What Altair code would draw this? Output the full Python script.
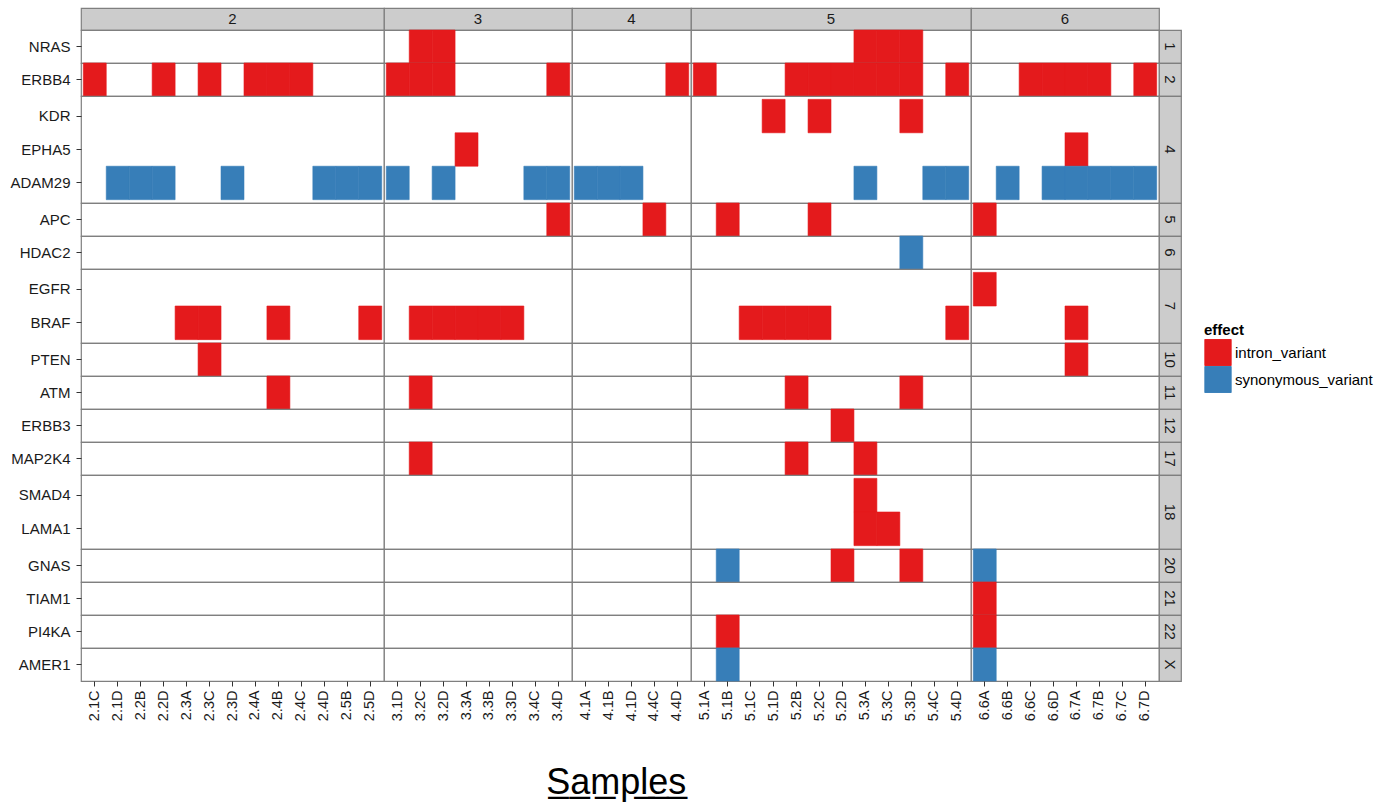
import altair as alt
import pandas as pd

# ---------------- data ----------------
PATIENTS = ["2", "3", "4", "5", "6"]
SAMPLES_2 = ["2.1C", "2.1D", "2.2B", "2.2D", "2.3A", "2.3C", "2.3D", "2.4A", "2.4B", "2.4C", "2.4D", "2.5B", "2.5D"]
SAMPLES_3 = ["3.1D", "3.2C", "3.2D", "3.3A", "3.3B", "3.3D", "3.4C", "3.4D"]
SAMPLES_4 = ["4.1A", "4.1B", "4.1D", "4.4C", "4.4D"]
SAMPLES_5 = ["5.1A", "5.1B", "5.1C", "5.1D", "5.2B", "5.2C", "5.2D", "5.3A", "5.3C", "5.3D", "5.4C", "5.4D"]
SAMPLES_6 = ["6.6A", "6.6B", "6.6C", "6.6D", "6.7A", "6.7B", "6.7C", "6.7D"]

CHROMS = ["1", "2", "4", "5", "6", "7", "10", "11", "12", "17", "18", "20", "21", "22", "X"]
GENES = [["NRAS"], ["ERBB4"], ["KDR", "EPHA5", "ADAM29"], ["APC"], ["HDAC2"], ["EGFR", "BRAF"],
         ["PTEN"], ["ATM"], ["ERBB3"], ["MAP2K4"], ["SMAD4", "LAMA1"], ["GNAS"], ["TIAM1"],
         ["PI4KA"], ["AMER1"]]

EFFECTS = ["intron_variant", "synonymous_variant"]
EFFECT_COLORS = ["#E41A1C", "#377EB8"]

INTRON_VARIANT = {
    "NRAS": ["3.2C", "3.2D", "5.3A", "5.3C", "5.3D"],
    "ERBB4": ["2.1C", "2.2D", "2.3C", "2.4A", "2.4B", "2.4C", "3.1D", "3.2C", "3.2D", "3.4D", "4.4D",
              "5.1A", "5.2B", "5.2C", "5.2D", "5.3A", "5.3C", "5.3D", "5.4D",
              "6.6C", "6.6D", "6.7A", "6.7B", "6.7D"],
    "KDR": ["5.1D", "5.2C", "5.3D"],
    "EPHA5": ["3.3A", "6.7A"],
    "APC": ["3.4D", "4.4C", "5.1B", "5.2C", "6.6A"],
    "EGFR": ["6.6A"],
    "BRAF": ["2.3A", "2.3C", "2.4B", "2.5D", "3.2C", "3.2D", "3.3A", "3.3B", "3.3D",
             "5.1C", "5.1D", "5.2B", "5.2C", "5.4D", "6.7A"],
    "PTEN": ["2.3C", "6.7A"],
    "ATM": ["2.4B", "3.2C", "5.2B", "5.3D"],
    "ERBB3": ["5.2D"],
    "MAP2K4": ["3.2C", "5.2B", "5.3A"],
    "SMAD4": ["5.3A"],
    "LAMA1": ["5.3A", "5.3C"],
    "GNAS": ["5.2D", "5.3D"],
    "TIAM1": ["6.6A"],
    "PI4KA": ["5.1B", "6.6A"],
}
SYNONYMOUS_VARIANT = {
    "ADAM29": ["2.1D", "2.2B", "2.2D", "2.3D", "2.4D", "2.5B", "2.5D", "3.1D", "3.2D", "3.4C", "3.4D",
               "4.1A", "4.1B", "4.1D", "5.3A", "5.4C", "5.4D",
               "6.6B", "6.6D", "6.7A", "6.7B", "6.7C", "6.7D"],
    "HDAC2": ["5.3D"],
    "GNAS": ["5.1B", "6.6A"],
    "AMER1": ["5.1B", "6.6A"],
}

# ---------------- table ----------------
SAMPLES = dict(zip(PATIENTS, [SAMPLES_2, SAMPLES_3, SAMPLES_4, SAMPLES_5, SAMPLES_6]))
GENES_OF = dict(zip(CHROMS, GENES))
CHROM_OF = {g: c for c, gs in zip(CHROMS, GENES) for g in gs}

rows = []
for effect, table in zip(EFFECTS, [INTRON_VARIANT, SYNONYMOUS_VARIANT]):
    for gene, samples in table.items():
        for s in samples:
            rows.append({"gene": gene, "chrom": CHROM_OF[gene], "sample": s,
                         "patient": s.split(".")[0], "effect": effect})
df = pd.DataFrame(rows)

# ---------------- layout ----------------
STEP_X = 22.95
STEP_Y = 33.45
STRIP = 22
BORDER = "#7F7F7F"
STRIP_FILL = "#CCCCCC"
TEXT = "#1A1A1A"

color_scale = alt.Scale(domain=EFFECTS, range=EFFECT_COLORS)
color = alt.Color("effect:N", scale=color_scale, legend=alt.Legend(title="effect"))
stroke = alt.Stroke("effect:N", scale=color_scale, legend=None)


def width_of(p):
    return round((len(SAMPLES[p]) + 0.2) * STEP_X)


def ypad_of(c):
    return 0.1 if len(GENES_OF[c]) > 1 else 0


def height_of(c):
    return round((len(GENES_OF[c]) + 2 * ypad_of(c)) * STEP_Y)


cells = []
# top strip row
for p in PATIENTS:
    strip = alt.Chart(pd.DataFrame({"patient": [p]})).mark_text(
        fontSize=15, color=TEXT
    ).encode(
        x=alt.X("patient:N", axis=None),
        y=alt.Y("patient:N", axis=None),
        text="patient:N",
    ).properties(width=width_of(p), height=STRIP,
                 view=alt.ViewBackground(fill=STRIP_FILL, stroke=BORDER, strokeWidth=1.2))
    cells.append(strip)
cells.append(
    alt.Chart(pd.DataFrame({"v": [""]})).mark_text().encode(text="v:N")
    .properties(width=STRIP, height=STRIP, view=alt.ViewBackground(stroke="transparent"))
)

n_rows = len(CHROMS)
for ri, c in enumerate(CHROMS):
    genes = GENES_OF[c]
    for ci, p in enumerate(PATIENTS):
        x_axis = alt.Axis(title=None, labelAngle=270, labelFontSize=14.5, labelColor=TEXT,
                          tickColor="#333333", tickSize=5, labelPadding=4, domain=False,
                          grid=False) if ri == n_rows - 1 else None
        y_axis = alt.Axis(title=None, labelFontSize=15, labelColor=TEXT, tickColor="#333333",
                          tickSize=5, labelPadding=6, domain=False, grid=False) if ci == 0 else None
        panel = alt.Chart(df).transform_filter(
            (alt.datum.chrom == c) & (alt.datum.patient == p)
        ).mark_rect(strokeWidth=0.6).encode(
            x=alt.X("sample:N", axis=x_axis,
                    scale=alt.Scale(domain=SAMPLES[p], paddingInner=0, paddingOuter=0.1)),
            y=alt.Y("gene:N", axis=y_axis,
                    scale=alt.Scale(domain=genes, paddingInner=0, paddingOuter=ypad_of(c))),
            color=color,
            stroke=stroke,
        ).properties(width=width_of(p), height=height_of(c),
                     view=alt.ViewBackground(fill="white", stroke=BORDER, strokeWidth=1.2))
        cells.append(panel)
    rstrip = alt.Chart(pd.DataFrame({"chrom": [c]})).mark_text(
        fontSize=15, color=TEXT, angle=90
    ).encode(
        x=alt.X("chrom:N", axis=None),
        y=alt.Y("chrom:N", axis=None),
        text="chrom:N",
    ).properties(width=STRIP, height=height_of(c),
                 view=alt.ViewBackground(fill=STRIP_FILL, stroke=BORDER, strokeWidth=1.2))
    cells.append(rstrip)

chart = alt.ConcatChart(
    concat=cells, columns=6, spacing=0, align="each", bounds="flush",
    title=alt.TitleParams(
        text="S\u0332a\u0332m\u0332p\u0332l\u0332e\u0332s\u0332",
        orient="bottom", anchor="middle", frame="bounds", fontSize=36,
        fontWeight="normal", color="black", offset=45, dx=-75,
    ),
    padding={"left": 9, "top": 7, "right": 5, "bottom": 0},
).configure(
    font="Liberation Sans",
).configure_legend(
    orient="none", legendX=1123, legendY=315,
    titleFontSize=15, titleFontWeight="bold", titleColor="black",
    labelFontSize=15, labelColor="black", labelOffset=3,
    symbolType="square", symbolSize=690, symbolStrokeColor="#F2F2F2",
    symbolStrokeWidth=1, symbolOpacity=1, rowPadding=0, titlePadding=1, padding=0,
    clipHeight=27,
)

chart.save("out.html", embed_options={"renderer": "svg", "actions": False})
